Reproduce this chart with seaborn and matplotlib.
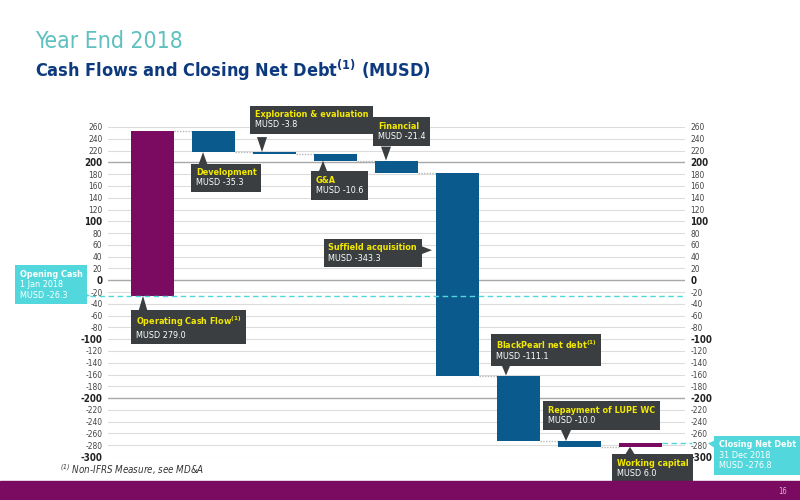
import numpy as np
import pandas as pd
import matplotlib
matplotlib.use("Agg")
import matplotlib.pyplot as plt
import seaborn as sns
from matplotlib.patches import Rectangle
from matplotlib.offsetbox import TextArea, VPacker, AnnotationBbox

# Data
steps = ["Operating Cash Flow", "Development", "Exploration & evaluation", "G&A",
         "Financial", "Suffield acquisition", "BlackPearl net debt",
         "Repayment of LUPE WC", "Working capital"]
heads = ["Operating Cash Flow$^{(1)}$", "Development", "Exploration & evaluation", "G&A",
         "Financial", "Suffield acquisition", "BlackPearl net debt$^{(1)}$",
         "Repayment of LUPE WC", "Working capital"]
amounts = [279.0, -35.3, -3.8, -10.6, -21.4, -343.3, -111.1, -10.0, 6.0]
kinds = ["in", "out", "out", "out", "out", "out", "out", "out", "in"]
opening = -26.3
closing = -276.8
yticks = np.arange(-300, 261, 20)

# Colours
PURPLE = "#7a0b60"
BLUE = "#0b5a8d"
DARK = "#3a3e40"
YELLOW = "#f3e900"
CYAN = "#52d8dc"
TEAL = "#5fc0c0"
NAVY = "#0d3a7e"
FONT = ["Liberation Sans Narrow", "DejaVu Sans"]

sns.set_theme(style="white")
plt.rcParams["font.family"] = FONT
plt.rcParams["font.stretch"] = "condensed"
plt.rcParams["mathtext.default"] = "regular"
plt.rcParams["axes.unicode_minus"] = False

df = pd.DataFrame({"step": steps, "amount": amounts, "kind": kinds})
df["start"] = opening + df["amount"].cumsum() - df["amount"]
df["end"] = df["start"] + df["amount"]

fig = plt.figure(figsize=(8, 5), dpi=100)
ax = fig.add_axes([108 / 800, 1 - 457 / 500, 577 / 800, 330 / 500])

# grid lines
for t in yticks:
    strong = t % 200 == 0
    ax.axhline(t, color="#a8a8a8" if strong else "#dcdcdc", lw=1.0 if strong else 0.8, zorder=0)

colors = [PURPLE if k == "in" else BLUE for k in kinds]
sns.barplot(data=df, x="step", y="amount", hue="step", palette=colors, width=0.7,
            saturation=1, legend=False, ax=ax, zorder=2)
# turn the bars into floating waterfall bars
for patch, s, a in zip(ax.patches, df["start"], df["amount"]):
    patch.set_y(s)
    patch.set_height(a)
    patch.set_edgecolor("none")

# connectors between bars
for i in range(len(steps) - 1):
    ax.hlines(df["end"][i], i + 0.35, i + 0.65, colors="#b8b8b8", linestyles=(0, (1, 1)), lw=1, zorder=1)

ax.set_xlim(-0.73, 8.73)
ax.set_ylim(-300, 260)
ax.set_xlabel("")
ax.set_ylabel("")
ax.set_xticks([])
ax.set_yticks(yticks)
for s in ax.spines.values():
    s.set_visible(False)
ax.tick_params(axis="y", length=0, pad=4, labelsize=6, labelcolor="#444444",
               labelleft=True, labelright=True)
for tick, t in zip(ax.yaxis.get_major_ticks(), yticks):
    for lab in (tick.label1, tick.label2):
        if t % 100 == 0:
            lab.set_fontweight("bold")
            lab.set_fontsize(7)
            lab.set_color("#222222")

# opening / closing dashed lines
ax.hlines(opening, -1.02, 8.73, colors=CYAN, linestyles=(0, (4, 2.5)), lw=1, zorder=3, clip_on=False)
ax.hlines(closing, 8.35, 8.85, colors=CYAN, linestyles=(0, (4, 2.5)), lw=1, zorder=3, clip_on=False)

PT = 0.72  # points per pixel at dpi 100


def callout(xy, head, sub, box_px, tail_px, fc=DARK, head_color=YELLOW, size=6.5, align=0):
    ha = TextArea(head, textprops=dict(color=head_color, fontsize=size, fontweight="bold"))
    sa = TextArea(sub, textprops=dict(color="white", fontsize=size))
    pack = VPacker(children=[ha, sa], align="left", pad=0, sep=1)
    ab = AnnotationBbox(pack, xy, xybox=(box_px[0] * PT, box_px[1] * PT), xycoords="data",
                        boxcoords="offset points", box_alignment=(align, 1), pad=0.28,
                        bboxprops=dict(fc=fc, ec="none", boxstyle="square"),
                        annotation_clip=False, zorder=5)
    ax.add_artist(ab)
    ax.annotate("", xy=xy, xytext=(tail_px[0] * PT, tail_px[1] * PT), textcoords="offset points",
                arrowprops=dict(arrowstyle="wedge,tail_width=0.6", fc=fc, ec="none",
                                shrinkA=0, shrinkB=0),
                annotation_clip=False, zorder=5)


def musd(v):
    return f"MUSD {v:.1f}"


st = df["start"].tolist()
en = df["end"].tolist()
callout((0 - 0.156, st[0]), heads[0], musd(amounts[0]), (-7, -19), (0, -17))
callout((1 - 0.172, en[1]), heads[1], musd(amounts[1]), (-7, -16), (0, -14))
callout((2 - 0.205, st[2]), heads[2], musd(amounts[2]), (-7, 42), (0, 15))
callout((3 - 0.205, en[3]), heads[3], musd(amounts[3]), (-7, -15), (0, -13))
callout((4 - 0.172, st[4]), heads[4], musd(amounts[4]), (-8, 39), (0, 14))
callout((5 - 0.418, 51), heads[5], musd(amounts[5]), (-15, 7), (-13, 0), align=1)
callout((6 - 0.205, st[6]), heads[6], musd(amounts[6]), (-10, 37), (0, 12))
callout((7 - 0.221, st[7]), heads[7], musd(amounts[7]), (-18, 35), (0, 11))
callout((8 - 0.172, st[8]), heads[8], musd(amounts[8]), (-13, -12), (0, -8))

callout((-1.025, opening), "Opening Cash", "1 Jan 2018\nMUSD -26.3", (-70, 26), (-11, 1),
        fc=CYAN, head_color="white")
callout((9.107, closing), "Closing Net Debt", "31 Dec 2018\nMUSD -276.8", (11, 3), (9, -1),
        fc=CYAN, head_color="white")

# titles and footer
fig.text(35 / 800, 1 - 48 / 500, "Year End 2018", fontsize=16.5, color=TEAL, va="baseline")
fig.text(35 / 800, 1 - 77 / 500, r"Cash Flows and Closing Net Debt$^{\mathbf{(1)}}$ (MUSD)",
         fontsize=13, fontweight="bold", color=NAVY, va="baseline")
fig.text(60 / 800, 1 - 474 / 500, "$^{(1)}$ Non-IFRS Measure, see MD&A", fontsize=7,
         style="italic", color="#333333", va="baseline")
fig.patches.append(Rectangle((0, 0), 1, 19 / 500, transform=fig.transFigure,
                             color=PURPLE, zorder=0))
fig.text(787 / 800, 9 / 500, "16", fontsize=5.5, color="#d8b8cc", ha="right", va="center")

fig.savefig("out.png", dpi=100)
